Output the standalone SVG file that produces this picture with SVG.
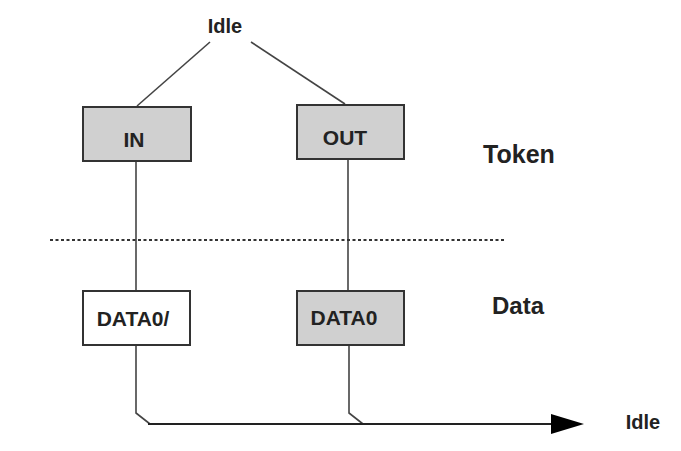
<svg xmlns="http://www.w3.org/2000/svg" width="681" height="451" viewBox="0 0 681 451">
<style>
  .box { stroke: #333; stroke-width: 2; }
  .gray { fill: #d0d0d0; }
  .white { fill: #ffffff; }
  .lbl { font-family: "Liberation Sans", Arial, sans-serif; font-weight: bold; fill: #222; text-anchor: middle; }
  .conn { stroke: #444; stroke-width: 1.6; fill: none; }
</style>
<rect width="681" height="451" fill="#ffffff"/>
<g id="connectors">
  <line class="conn" x1="210" y1="42" x2="137" y2="106"/>
  <line class="conn" x1="251" y1="42" x2="345" y2="104"/>
  <line class="conn" x1="136" y1="161" x2="136" y2="291"/>
  <line class="conn" x1="348" y1="159" x2="348" y2="291"/>
  <polyline class="conn" points="136,345 136,413 150,424"/>
  <polyline class="conn" points="349,345 349,413 363,424"/>
  <line x1="148" y1="424" x2="554" y2="424" stroke="#222" stroke-width="2"/>
  <polygon points="551,414 584,424 551,434" fill="#000"/>
</g>
<line id="separator" x1="50" y1="240" x2="506" y2="240" stroke="#333" stroke-width="2" stroke-dasharray="3 2.5"/>
<g id="idle-top"><text class="lbl" x="225" y="33" font-size="20">Idle</text></g>
<g id="IN"><rect class="box gray" x="83" y="107" width="108" height="54"/><text class="lbl" x="134" y="147" font-size="21">IN</text></g>
<g id="OUT"><rect class="box gray" x="297" y="105" width="107" height="54"/><text class="lbl" x="345" y="145" font-size="21">OUT</text></g>
<g id="DATA0-slash"><rect class="box white" x="83" y="291" width="107" height="54"/><text class="lbl" x="133" y="326" font-size="21">DATA0/</text></g>
<g id="DATA0"><rect class="box gray" x="297" y="291" width="107" height="54"/><text class="lbl" x="344" y="325" font-size="21">DATA0</text></g>
<g id="token-label"><text class="lbl" x="519" y="163" font-size="25">Token</text></g>
<g id="data-label"><text class="lbl" x="518" y="314" font-size="24">Data</text></g>
<g id="idle-right"><text class="lbl" x="643" y="429" font-size="20">Idle</text></g>
</svg>
